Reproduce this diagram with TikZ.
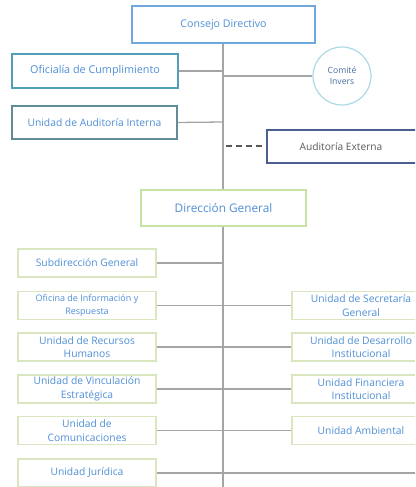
\documentclass[tikz,border=0pt]{standalone}
\usepackage{fontspec}
\setmainfont{Open Sans}
\definecolor{txtblue}{RGB}{79,143,214}
\definecolor{txtcomite}{RGB}{68,108,165}
\definecolor{bconsejo}{RGB}{111,168,220}
\definecolor{bofic}{RGB}{80,160,185}
\definecolor{baudi}{RGB}{95,140,150}
\definecolor{bcomite}{RGB}{170,218,232}
\definecolor{bext}{RGB}{75,95,145}
\definecolor{bdir}{RGB}{200,226,165}
\definecolor{blow}{RGB}{218,230,192}
\definecolor{lgray}{RGB}{165,165,165}
\definecolor{dgray}{RGB}{90,90,90}
\tikzset{
  box/.style={draw, line width=1.2pt, fill=white, inner sep=0pt, align=center, text=txtblue},
  lowbox/.style={draw=blow, line width=1.2pt, fill=white, inner sep=0pt, align=center, text=txtblue, font=\fontsize{10.3}{13.5}\selectfont, minimum width=138pt, minimum height=28pt},
  conn/.style={draw=lgray, line width=1.3pt},
}
\begin{document}
\begin{tikzpicture}[x=1pt,y=-1pt]
\useasboundingbox (0,0) rectangle (415,487);
\clip (0,0) rectangle (415,487);
% spine
\coordinate (top) at (223,43);
\coordinate (bot) at (223,490);
\draw[conn] (top) -- (bot);
% top nodes
\node[box, draw=bconsejo, minimum width=183pt, minimum height=37pt, font=\fontsize{10.6}{12}\selectfont] (cd) at (223.5,24.5) {Consejo Directivo};
\node[box, draw=bofic, minimum width=166pt, minimum height=34pt, font=\fontsize{10.8}{12}\selectfont] (of) at (95,71) {Oficialía de Cumplimiento};
\node[box, draw=baudi, minimum width=165pt, minimum height=33pt, font=\fontsize{10.3}{12}\selectfont] (ai) at (94.5,122.5) {Unidad de Auditoría Interna};
\node[box, draw=bcomite, text=txtcomite, circle, minimum size=58pt, font=\fontsize{8.6}{11}\selectfont] (ci) at (342,76) {Comité\\Invers};
\node[box, draw=bext, text=dgray, minimum width=160pt, minimum height=33pt, font=\fontsize{10.2}{12}\selectfont] (ae) at (347,146.5) {\hspace*{-12pt}Auditoría Externa};
\node[box, draw=bdir, minimum width=165pt, minimum height=36pt, font=\fontsize{11.8}{13}\selectfont] (dg) at (223.5,208) {Dirección General};
\coordinate (j1) at (223,71);
\coordinate (j2) at (223,76);
\coordinate (j3) at (223,122);
\coordinate (j4) at (226,146);
\draw[conn] (of.east) -- (j1);
\draw[conn] (j2) -- (ci.west);
\draw[conn] (ai.east) -- (j3);
\draw[draw=dgray, line width=1.2pt, dash pattern=on 6pt off 4pt] (j4) -- (ae.west |- j4);
% lower left
\node[lowbox] (sg) at (87,263) {Subdirección General};
\node[lowbox, font=\fontsize{9}{13}\selectfont] (oi) at (87,305.5) {Oficina de Información y\\Respuesta};
\node[lowbox] (rh) at (87,347) {Unidad de Recursos\\Humanos};
\node[lowbox] (ve) at (87,389) {Unidad de Vinculación\\Estratégica};
\node[lowbox] (uc) at (87,430.5) {Unidad de\\Comunicaciones};
\node[lowbox] (uj) at (87,473) {Unidad Jurídica};
% lower right
\node[lowbox] (us) at (361,305.5) {Unidad de Secretaría\\General};
\node[lowbox] (ud) at (361,347) {Unidad de Desarrollo\\Institucional};
\node[lowbox] (uf) at (361,389) {Unidad Financiera\\Institucional};
\node[lowbox] (ua) at (361,430.5) {Unidad Ambiental};
\coordinate (rj) at (420,473);
% connectors
\draw[conn] (sg.east) -- (sg.east -| top);
\draw[conn] (oi.east) -- (us.west);
\draw[conn] (rh.east) -- (ud.west);
\draw[conn] (ve.east) -- (uf.west);
\draw[conn] (uc.east) -- (ua.west);
\draw[conn] (uj.east) -- (uj.east -| rj);
\end{tikzpicture}
\end{document}
